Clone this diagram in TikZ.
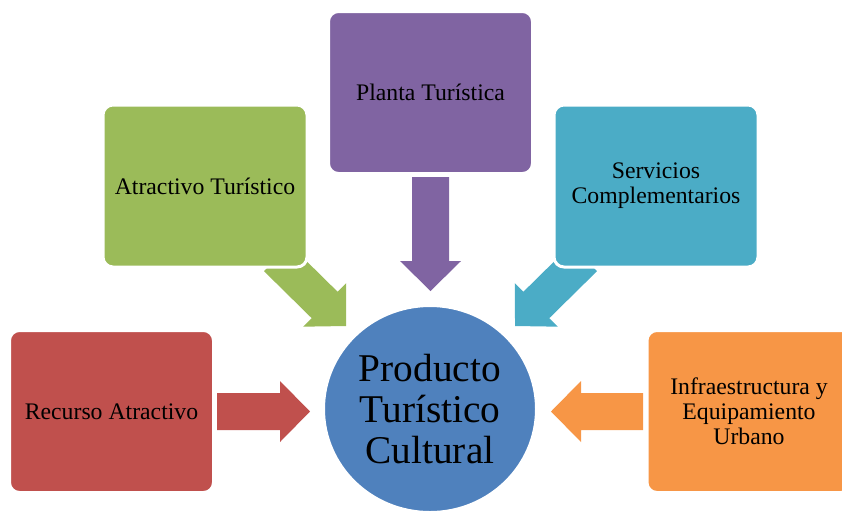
\documentclass[tikz,border=0pt]{standalone}
\usepackage{fontspec}
\setmainfont{Liberation Serif}
\usetikzlibrary{calc,shapes.geometric}
\definecolor{cred}{HTML}{C0504D}
\definecolor{cgreen}{HTML}{9BBB59}
\definecolor{cpurple}{HTML}{8064A2}
\definecolor{ccyan}{HTML}{4BACC6}
\definecolor{corange}{HTML}{F79646}
\definecolor{cblue}{HTML}{4F81BD}
\newcommand\blockarrow[3]{%
  \coordinate (#2h) at ($(#3)!22.5pt!(#2)$);
  \fill[#1] ($(#2)!13.875pt!90:(#3)$) -- ($(#2h)!13.875pt!90:(#3)$) -- ($(#2h)!22.875pt!90:(#3)$) -- (#3)
    -- ($(#2h)!22.875pt!-90:(#3)$) -- ($(#2h)!13.875pt!-90:(#3)$) -- ($(#2)!13.875pt!-90:(#3)$) -- cycle;}
\begin{document}
\begin{tikzpicture}[x=0.75pt,y=-0.75pt,
  box/.style={rectangle, rounded corners=7.5pt, draw=white, line width=2.25pt,
    minimum width=153pt, minimum height=121.5pt, inner sep=0pt, align=center,
    font=\fontsize{17.8pt}{18.75pt}\selectfont, text=black},
  hub/.style={ellipse, draw=white, line width=1.5pt, fill=cblue, minimum width=159pt,
    minimum height=154.5pt, inner sep=0pt, align=center,
    font=\fontsize{29.5pt}{30.75pt}\selectfont, text=black}]
\clip (0,0) rectangle (842,512);
% arrow end points
\coordinate (ra) at (217,411.5);   \coordinate (rb) at (310,411.5);
\coordinate (ga) at (277,258);     \coordinate (gb) at (346,326);
\coordinate (pa) at (430.5,177);   \coordinate (pb) at (430.5,291);
\coordinate (ca) at (584,258);     \coordinate (cb) at (515,326);
\coordinate (oa) at (643,411.5);   \coordinate (ob) at (551,411.5);
\blockarrow{cred}{ra}{rb}
\blockarrow{cgreen}{ga}{gb}
\blockarrow{cpurple}{pa}{pb}
\blockarrow{ccyan}{ca}{cb}
\blockarrow{corange}{oa}{ob}
% boxes
\node[box, fill=cred] (rec) at (111.5,411.5) {Recurso Atractivo};
\node[box, fill=cgreen] (atr) at (205,186) {Atractivo Turístico};
\node[box, fill=cpurple] (pla) at (430.5,92.5) {Planta Turística};
\node[box, fill=ccyan] (ser) at (656,186) {Servicios\\Complementarios};
\node[box, fill=corange] (inf) at (749,411.5) {Infraestructura y\\Equipamiento\\Urbano};
\node[hub] (prod) at (430,409) {Producto\\Turístico\\Cultural};
\end{tikzpicture}
\end{document}
